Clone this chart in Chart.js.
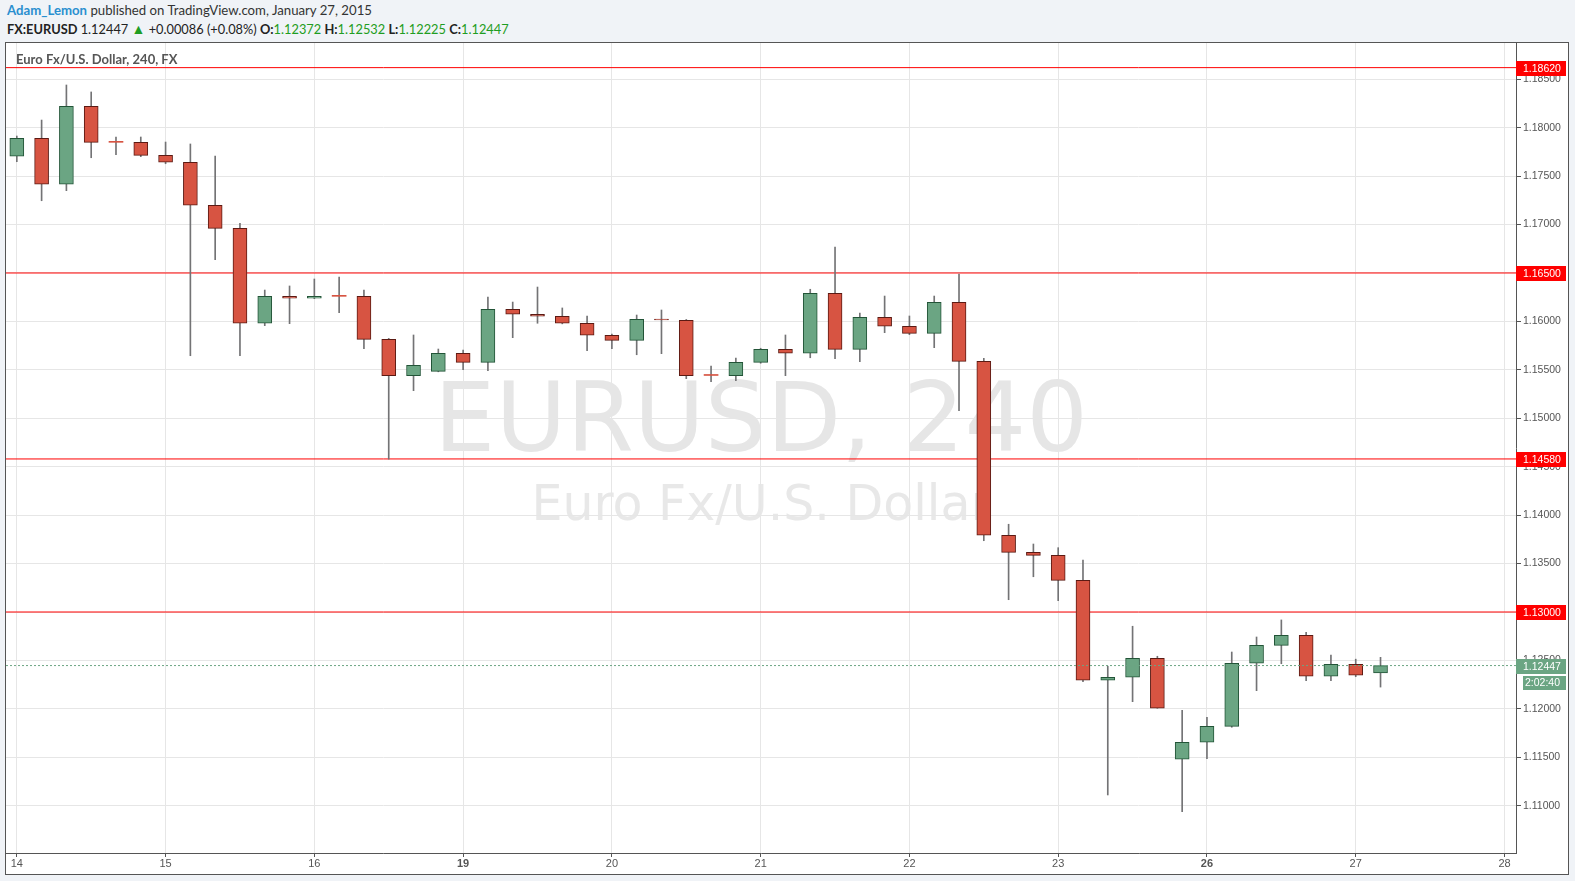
<!DOCTYPE html>
<html>
<head>
<meta charset="utf-8">
<script src="https://cdn.jsdelivr.net/npm/chart.js@4.4.0/dist/chart.umd.min.js"></script>
<style>
  html, body { margin: 0; padding: 0; background: #f0f3f7; width: 1575px; height: 881px; overflow: hidden; }
  body { font-family: Lato, "Open Sans", sans-serif; color: #333; }
  #hdr1 { position: absolute; left: 7px; top: 3px; font-size: 13.2px; line-height: 15px; white-space: nowrap; }
  #hdr1 .user { color: #2a8fcf; font-weight: bold; }
  #hdr2 { position: absolute; left: 7px; top: 21px; font-size: 12.8px; line-height: 15px; white-space: nowrap; color: #222; }
  #hdr2 b { font-weight: bold; }
  #hdr2 .g { color: #1f9d22; }
  #hdr2 .tri { font-size: 14px; }
  #frame { position: absolute; left: 5px; top: 42px; width: 1564px; height: 833px; box-sizing: border-box; border: 1px solid #555; background: #fff; }
  #chartBox { position: absolute; left: 0; top: 0; width: 1562px; height: 831px; }
  #title { position: absolute; left: 10px; top: 9px; font-size: 13px; line-height: 14px; color: #555; font-weight: bold; white-space: nowrap; }
</style>
</head>
<body>
<div id="hdr1"><span class="user">Adam_Lemon</span> published on TradingView.com, January 27, 2015</div>
<div id="hdr2"><b>FX:EURUSD</b> 1.12447 <span class="g tri">&#9650;</span> +0.00086 (+0.08%) <b>O:</b><span class="g">1.12372</span> <b>H:</b><span class="g">1.12532</span> <b>L:</b><span class="g">1.12225</span> <b>C:</b><span class="g">1.12447</span></div>
<div id="frame">
  <div id="chartBox"><canvas id="chart"></canvas></div>
  <div id="title">Euro Fx/U.S. Dollar, 240, FX</div>
</div>
<script>
// 4h candles, 6 per trading day
const dayLabels = ['14', '15', '16', '19', '20', '21', '22', '23', '26', '27', '28'];
const boldDays = ['19', '26'];
const candlesPerDay = 6;

const opens = [1.17705, 1.17891, 1.17416, 1.18221, 1.17852, 1.17849, 1.17715, 1.17643, 1.17199, 1.16961,
  1.15981, 1.16259, 1.16239, 1.16262, 1.16259, 1.15815, 1.15440, 1.15485, 1.15671, 1.15578,
  1.16125, 1.16074, 1.16053, 1.15981, 1.15857, 1.15805, 1.16022, 1.16012, 1.15445, 1.15440,
  1.15578, 1.15712, 1.15671, 1.16290, 1.15712, 1.16043, 1.15950, 1.15877, 1.16197, 1.15588,
  1.13792, 1.13615, 1.13584, 1.13327, 1.12295, 1.12326, 1.12522, 1.11480, 1.11655, 1.11820,
  1.12471, 1.12656, 1.12760, 1.12337, 1.12460, 1.12372];
const highs = [1.17914, 1.18079, 1.18441, 1.18369, 1.17904, 1.17904, 1.17852, 1.17832, 1.17708, 1.17013,
  1.16324, 1.16366, 1.16438, 1.16459, 1.16324, 1.15825, 1.15860, 1.15715, 1.15705, 1.16252,
  1.16200, 1.16355, 1.16139, 1.16056, 1.15870, 1.16066, 1.16118, 1.16020, 1.15540, 1.15622,
  1.15723, 1.15860, 1.16332, 1.16768, 1.16087, 1.16262, 1.16056, 1.16262, 1.16490, 1.15619,
  1.13906, 1.13702, 1.13664, 1.13536, 1.12440, 1.12853, 1.12543, 1.11985, 1.11913, 1.12587,
  1.12742, 1.12918, 1.12790, 1.12556, 1.12513, 1.12532];
const lows = [1.17649, 1.17246, 1.17350, 1.17690, 1.17721, 1.17701, 1.17628, 1.15646, 1.16637, 1.15646,
  1.15956, 1.15977, 1.16235, 1.16090, 1.15718, 1.14578, 1.15285, 1.15480, 1.15502, 1.15491,
  1.15832, 1.15981, 1.15975, 1.15698, 1.15718, 1.15656, 1.15667, 1.15409, 1.15378, 1.15388,
  1.15568, 1.15440, 1.15625, 1.15615, 1.15584, 1.15884, 1.15863, 1.15729, 1.15078, 1.13736,
  1.13127, 1.13364, 1.13117, 1.12281, 1.11111, 1.12074, 1.12006, 1.10938, 1.11486, 1.11810,
  1.12188, 1.12466, 1.12291, 1.12291, 1.12332, 1.12225];
const closes = [1.17891, 1.17416, 1.18221, 1.17849, 1.17849, 1.17715, 1.17643, 1.17199, 1.16961, 1.15981,
  1.16259, 1.16239, 1.16259, 1.16259, 1.15815, 1.15440, 1.15547, 1.15671, 1.15578, 1.16125,
  1.16074, 1.16053, 1.15981, 1.15857, 1.15805, 1.16022, 1.16015, 1.15440, 1.15442, 1.15578,
  1.15712, 1.15671, 1.16290, 1.15712, 1.16043, 1.15950, 1.15877, 1.16197, 1.15588, 1.13792,
  1.13615, 1.13584, 1.13327, 1.12295, 1.12326, 1.12522, 1.12006, 1.11655, 1.11820, 1.12471,
  1.12656, 1.12760, 1.12337, 1.12460, 1.12347, 1.12447];

const levels = [1.18620, 1.16500, 1.14580, 1.13000];
const lastPrice = 1.12447;
const countdown = '2:02:40';
const yTickValues = [1.110, 1.115, 1.120, 1.125, 1.130, 1.135, 1.140, 1.145, 1.150, 1.155, 1.160, 1.165, 1.170, 1.175, 1.180, 1.185];

const upFill = '#6ba583', upLine = '#225437';
const downFill = '#d75442', downLine = '#5b1a13';
const wickColor = '#737375';
const xMin = -0.436, xMax = 60.464;
const yMin = 1.105119, yMax = 1.188745;

const isUp = i => closes[i] >= opens[i];
const isDoji = i => Math.abs(closes[i] - opens[i]) < 0.00005;

const watermark = {
  id: 'watermark',
  beforeDraw(chart) {
    const { ctx, chartArea } = chart;
    const cx = (chartArea.left + chartArea.right) / 2;
    ctx.save();
    ctx.textAlign = 'center';
    ctx.textBaseline = 'alphabetic';
    ctx.fillStyle = '#e6e6e6';
    ctx.font = '97px "DejaVu Sans"';
    ctx.fillText('EURUSD, 240', cx, chartArea.top + 408);
    ctx.fillStyle = '#e8e8e8';
    ctx.font = '49px "DejaVu Sans"';
    ctx.fillText('Euro Fx/U.S. Dollar', cx, chartArea.top + 477);
    ctx.restore();
  }
};

const axisTags = {
  id: 'axisTags',
  afterDraw(chart) {
    const { ctx, chartArea, scales } = chart;
    const r = chartArea.right;
    ctx.save();
    ctx.font = '10.5px "Liberation Sans", Arial, sans-serif';
    ctx.textBaseline = 'middle';
    ctx.textAlign = 'left';
    levels.forEach(lvl => {
      const y = Math.round(scales.y.getPixelForValue(lvl));
      ctx.fillStyle = '#ff0000';
      ctx.fillRect(r, y - 7, 50, 15);
      ctx.fillStyle = '#ffffff';
      ctx.fillText(lvl.toFixed(5), r + 7, y + 1);
    });
    const py = Math.round(scales.y.getPixelForValue(lastPrice));
    ctx.fillStyle = upFill;
    ctx.fillRect(r, py - 7, 50, 15);
    ctx.fillRect(r + 7, py + 10, 43, 14);
    ctx.fillStyle = '#ffffff';
    ctx.fillText(lastPrice.toFixed(5), r + 7, py + 1);
    ctx.fillText(countdown, r + 9, py + 17.5);
    ctx.restore();
  }
};

new Chart(document.getElementById('chart'), {
  type: 'bar',
  data: {
    datasets: [
      {
        type: 'line',
        data: [{ x: xMin, y: lastPrice }, { x: xMax, y: lastPrice }],
        borderColor: upFill,
        borderWidth: 1,
        borderDash: [2, 2],
        pointRadius: 0,
        order: 0
      },
      {
        data: opens.map((o, i) => ({ x: i, y: [o, closes[i]] })),
        backgroundColor: opens.map((o, i) => isUp(i) ? upFill : downFill),
        borderColor: opens.map((o, i) => isUp(i) ? upLine : downLine),
        borderWidth: opens.map((o, i) => isDoji(i) ? 0 : 1),
        borderSkipped: false,
        barThickness: 14,
        minBarLength: 1,
        grouped: false,
        order: 1
      },
      {
        data: lows.map((l, i) => ({ x: i, y: [l, highs[i]] })),
        backgroundColor: wickColor,
        borderWidth: 0,
        barThickness: 1,
        grouped: false,
        order: 2
      },
      ...levels.map(lvl => ({
        type: 'line',
        data: [{ x: xMin, y: lvl }, { x: xMax, y: lvl }],
        borderColor: '#ff0000',
        borderWidth: 1,
        pointRadius: 0,
        order: 3
      }))
    ]
  },
  options: {
    responsive: true,
    maintainAspectRatio: false,
    devicePixelRatio: 1,
    animation: false,
    layout: { padding: 0 },
    plugins: { legend: { display: false }, tooltip: { enabled: false } },
    scales: {
      x: {
        type: 'linear',
        min: xMin,
        max: xMax,
        offset: false,
        grid: { color: '#e6e6e6', offset: false, tickLength: 4, tickColor: '#555' },
        border: { color: '#555', width: 1 },
        afterBuildTicks: s => { s.ticks = dayLabels.map((d, i) => ({ value: i * candlesPerDay })); },
        afterFit: s => { s.height = 21; s.paddingLeft = 0; s.paddingRight = 0; },
        ticks: {
          padding: 0,
          maxRotation: 0,
          autoSkip: false,
          color: '#555',
          callback: v => dayLabels[Math.round(v / candlesPerDay)],
          font: c => ({
            family: '"Liberation Sans Narrow", "Liberation Sans", Arial, sans-serif',
            size: 11,
            weight: (c.tick && boldDays.includes(dayLabels[Math.round(c.tick.value / candlesPerDay)])) ? 'bold' : 'normal'
          })
        }
      },
      y: {
        type: 'linear',
        position: 'right',
        min: yMin,
        max: yMax,
        grid: { color: '#e6e6e6', tickLength: 5, tickColor: '#555' },
        border: { color: '#555', width: 1 },
        afterBuildTicks: s => { s.ticks = yTickValues.map(v => ({ value: v })); },
        afterFit: s => { s.width = 52; s.paddingTop = 0; s.paddingBottom = 0; },
        ticks: {
          padding: 2,
          color: '#555',
          font: { family: '"Liberation Sans", Arial, sans-serif', size: 10.5 },
          callback: v => v.toFixed(5)
        }
      }
    }
  },
  plugins: [watermark, axisTags]
});
</script>
</body>
</html>
